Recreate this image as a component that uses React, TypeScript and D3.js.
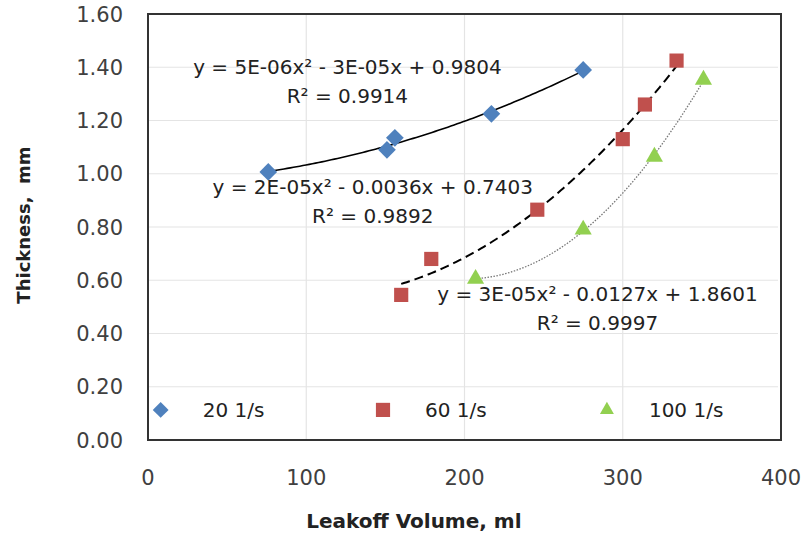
import React, { useEffect } from "react";
import * as d3 from "d3";

// leakoff volume (ml) vs thickness (mm) per shear rate
const vol20 = [76, 151, 156, 217, 275];
const thk20 = [1.007, 1.09, 1.135, 1.225, 1.39];
const vol60 = [160, 179, 246, 300, 314, 334];
const thk60 = [0.545, 0.68, 0.865, 1.13, 1.26, 1.425];
const vol100 = [207, 275, 320, 351];
const thk100 = [0.605, 0.79, 1.064, 1.353];

const seriesNames = ["20 1/s", "60 1/s", "100 1/s"];
const eqLabels = [
  ["y = 5E-06x² - 3E-05x + 0.9804", "R² = 0.9914"],
  ["y = 2E-05x² - 0.0036x + 0.7403", "R² = 0.9892"],
  ["y = 3E-05x² - 0.0127x + 1.8601", "R² = 0.9997"],
];
const xTicks = [0, 100, 200, 300, 400];
const yTicks = [0, 0.2, 0.4, 0.6, 0.8, 1.0, 1.2, 1.4, 1.6];

const W = 803;
const H = 533;
const M = { left: 148, right: 22, top: 14, bottom: 93 };
const FONT = "'DejaVu Sans', sans-serif";

// least squares 2nd order polynomial, returns [a, b, c] for a x^2 + b x + c
function quadFit(xs: number[], ys: number[]) {
  const s = (f: (x: number, y: number) => number) =>
    d3.sum(xs, (x, i) => f(x, ys[i]));
  const A = [
    [s((x) => x ** 4), s((x) => x ** 3), s((x) => x ** 2)],
    [s((x) => x ** 3), s((x) => x ** 2), s((x) => x)],
    [s((x) => x ** 2), s((x) => x), xs.length],
  ];
  const B = [s((x, y) => x * x * y), s((x, y) => x * y), s((x, y) => y)];
  const det = (m: number[][]) =>
    m[0][0] * (m[1][1] * m[2][2] - m[1][2] * m[2][1]) -
    m[0][1] * (m[1][0] * m[2][2] - m[1][2] * m[2][0]) +
    m[0][2] * (m[1][0] * m[2][1] - m[1][1] * m[2][0]);
  const D = det(A);
  return [0, 1, 2].map((k) => det(A.map((row, i) => row.map((v, j) => (j === k ? B[i] : v)))) / D);
}

export default function App() {
  useEffect(() => {
    document.body.style.margin = "0";
  }, []);

  const x = d3.scaleLinear().domain([0, 400]).range([M.left, W - M.right]);
  const y = d3.scaleLinear().domain([0, 1.6]).range([H - M.bottom, M.top]);

  const series = [
    { xs: vol20, ys: thk20, color: "#4F81BD", shape: "diamond", dash: "none", lineColor: "#000", lw: 1.6 },
    { xs: vol60, ys: thk60, color: "#C0504D", shape: "square", dash: "9 5", lineColor: "#000", lw: 2 },
    { xs: vol100, ys: thk100, color: "#92D050", shape: "triangle", dash: "1.5 1.5", lineColor: "#777", lw: 1.3 },
  ];

  // label centre in data coords (x, y of first line)
  const eqPos = [
    [126, 1.40],
    [142, 0.95],
    [284, 0.55],
  ];

  const symbol = (shape: string, size: number) => {
    const t =
      shape === "diamond" ? d3.symbolDiamond2 : shape === "square" ? d3.symbolSquare2 : d3.symbolTriangle2;
    return d3.symbol().type(t).size(size)() as string;
  };
  const markSize: Record<string, number> = { diamond: 200, square: 256, triangle: 210 };
  const legendSize: Record<string, number> = { diamond: 160, square: 256, triangle: 140 };

  const line = d3
    .line<number[]>()
    .x((d) => x(d[0]))
    .y((d) => y(d[1]));

  const legendX = [8, 148.5, 290];

  return (
    <svg width={W} height={H} style={{ display: "block", fontFamily: FONT }}>
      <rect width={W} height={H} fill="#fff" />
      {/* grid */}
      {yTicks.slice(1, -1).map((t) => (
        <line key={"gy" + t} x1={x(0)} x2={x(400) - 3} y1={y(t)} y2={y(t)} stroke="#e4e4e4" strokeWidth={1.2} />
      ))}
      {xTicks.slice(1, -1).map((t) => (
        <line key={"gx" + t} x1={x(t)} x2={x(t)} y1={y(1.6)} y2={y(0)} stroke="#e4e4e4" strokeWidth={1.2} />
      ))}
      <rect
        x={x(0)}
        y={y(1.6)}
        width={x(400) - x(0)}
        height={y(0) - y(1.6)}
        fill="none"
        stroke="#333"
        strokeWidth={2}
      />
      {/* tick labels */}
      {yTicks.map((t) => (
        <text key={"ty" + t} x={M.left - 25} y={y(t)} dy="0.36em" textAnchor="end" fontSize={21} fill="#404040">
          {t.toFixed(2)}
        </text>
      ))}
      {xTicks.map((t) => (
        <text key={"tx" + t} x={x(t)} y={y(0) + 37} dy="0.36em" textAnchor="middle" fontSize={21} fill="#404040">
          {t}
        </text>
      ))}
      {/* trendlines */}
      {series.map((s, i) => {
        const [a, b, c] = quadFit(s.xs, s.ys);
        const [lo, hi] = d3.extent(s.xs) as [number, number];
        const pts = d3.range(0, 101).map((k) => {
          const xv = lo + ((hi - lo) * k) / 100;
          return [xv, a * xv * xv + b * xv + c];
        });
        return (
          <path
            key={"tl" + i}
            d={line(pts) as string}
            fill="none"
            stroke={s.lineColor}
            strokeWidth={s.lw}
            strokeDasharray={s.dash}
          />
        );
      })}
      {/* markers */}
      {series.map((s, i) =>
        s.xs.map((xv, j) => (
          <path
            key={"m" + i + "-" + j}
            d={symbol(s.shape, markSize[s.shape])}
            transform={`translate(${x(xv)},${y(s.ys[j])})`}
            fill={s.color}
          />
        ))
      )}
      {/* equation labels */}
      {eqLabels.map((lines, i) => (
        <text key={"eq" + i} fontSize={20} fill="#222" textAnchor="middle">
          <tspan x={x(eqPos[i][0])} y={y(eqPos[i][1]) + 7}>{lines[0]}</tspan>
          <tspan x={x(eqPos[i][0])} y={y(eqPos[i][1]) + 36}>{lines[1]}</tspan>
        </text>
      ))}
      {/* legend */}
      {series.map((s, i) => (
        <g key={"lg" + i} transform={`translate(${x(legendX[i])},${y(0.113)})`}>
          <path d={symbol(s.shape, legendSize[s.shape])} fill={s.color} />
          <text x={42} dy="0.36em" fontSize={20} fill="#222">
            {seriesNames[i]}
          </text>
        </g>
      ))}
      {/* axis titles */}
      <text x={x(168)} y={H - 12} dy="0.36em" textAnchor="middle" fontSize={20} fontWeight="bold" fill="#222">
        Leakoff Volume, ml
      </text>
      <text
        transform={`translate(24,225) rotate(-90)`}
        dy="0.36em"
        textAnchor="middle"
        fontSize={18}
        fontWeight="bold"
        fill="#222"
        style={{ whiteSpace: "pre" }}
      >
        {"Thickness,  mm"}
      </text>
    </svg>
  );
}
